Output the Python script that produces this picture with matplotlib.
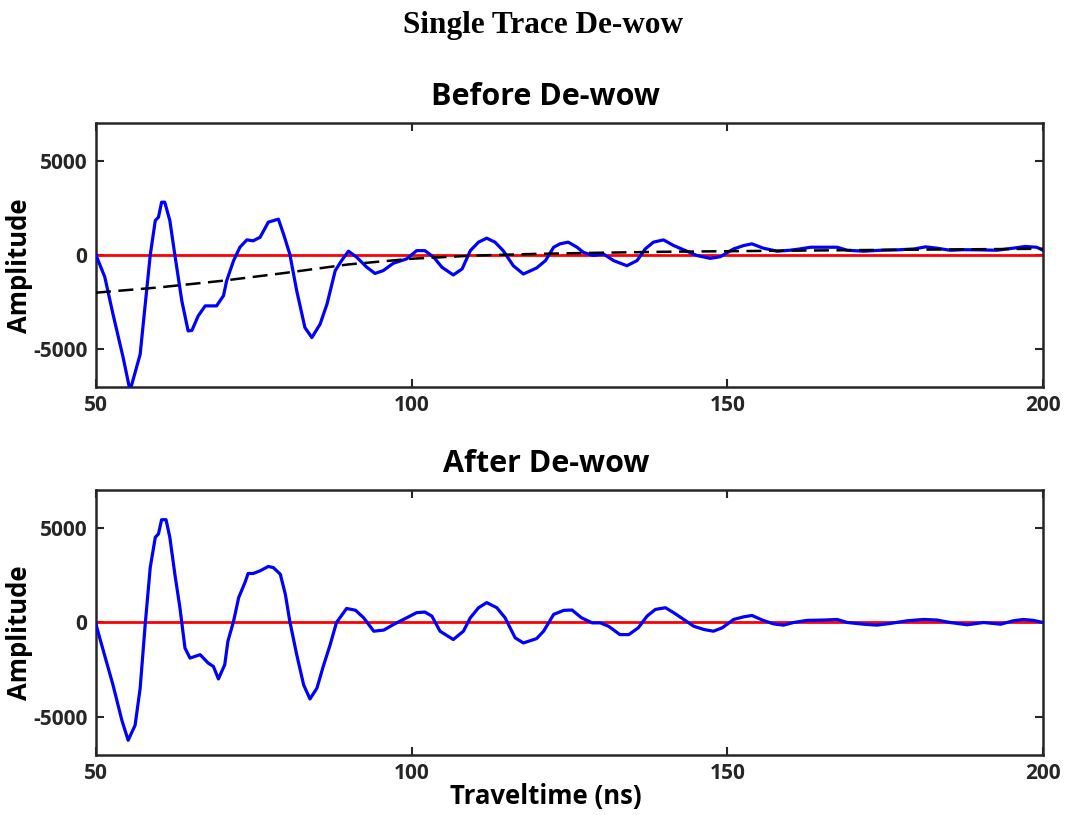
import numpy as np
import matplotlib.pyplot as plt

# Traza antes del de-wow (ns, amplitud)
t_before = [50.0, 51.4, 52.7, 54.3, 55.4, 57.0, 58.6, 59.4, 59.9, 60.4, 60.9, 61.7, 62.5,
            63.6, 64.6, 65.2, 66.2, 67.3, 69.1, 70.2, 70.7, 71.8, 72.8, 73.9, 74.9, 76.0,
            77.3, 78.9, 79.7, 80.7, 81.8, 83.1, 84.2, 85.5, 86.6, 87.9, 88.9, 90.0, 91.3,
            92.9, 94.2, 95.5, 97.1, 99.2, 100.8, 102.1, 103.5, 104.8, 106.6, 108.0, 109.3,
            110.6, 111.9, 113.2, 114.5, 116.1, 117.7, 119.8, 121.2, 122.5, 123.5, 124.8,
            126.2, 127.2, 128.8, 130.4, 132.0, 134.1, 135.7, 137.0, 138.3, 139.9, 141.5,
            143.6, 145.2, 147.3, 148.9, 151.0, 152.6, 153.9, 155.7, 157.9, 159.9, 161.5,
            163.2, 165.3, 167.4, 169.0, 171.6, 174.3, 176.9, 179.6, 181.4, 183.2, 185.3,
            187.4, 190.1, 192.7, 195.3, 197.2, 199.0, 200.0]
a_before = [0, -1170, -3140, -5430, -7200, -5270, 0, 1830, 2000, 2800, 2800, 1830, 0,
            -2430, -4030, -4000, -3230, -2700, -2700, -2160, -1370, -300, 410, 800, 750, 940,
            1740, 1900, 1120, 50, -1900, -3850, -4380, -3670, -2600, -830, -300, 200, -120,
            -650, -980, -830, -440, -210, 230, 230, -120, -650, -1060, -740, 230,
            680, 890, 680, 230, -570, -1010, -690, -300, 410, 590, 680,
            410, 140, -30, 50, -300, -570, -300, 320, 680, 800, 500,
            200, -30, -180, -90, 320, 500, 590, 360, 200, 250, 320,
            410, 410, 410, 250, 200, 250, 270, 320, 430, 360, 250,
            280, 270, 250, 360, 450, 410, 250]

# Tendencia (wow) estimada
t_trend = [50, 60, 70, 80, 90, 100, 110, 120, 130, 140, 150, 175, 200]
a_trend = [-2000, -1720, -1370, -950, -500, -200, -30, 60, 120, 170, 200, 270, 330]

# Traza después del de-wow
t_after = [50.0, 51.2, 52.7, 54.1, 55.1, 56.2, 57.0, 57.8, 58.6, 59.4, 59.9, 60.4, 61.1,
           61.7, 62.5, 63.3, 64.1, 64.9, 66.5, 67.8, 68.6, 69.4, 70.4, 70.9, 71.8, 72.6,
           73.6, 74.1, 74.9, 76.0, 77.3, 78.1, 79.2, 80.0, 80.7, 81.8, 82.9, 83.9, 85.0,
           86.0, 87.1, 88.1, 89.7, 91.1, 92.4, 94.0, 95.6, 97.1, 98.7, 100.8, 102.1, 103.2,
           104.5, 106.6, 108.2, 109.3, 110.6, 111.9, 113.5, 114.8, 116.4, 117.7, 119.8,
           120.9, 122.5, 124.1, 125.4, 126.9, 128.6, 129.9, 131.2, 133.0, 134.4, 135.9,
           137.3, 138.6, 140.2, 141.5, 143.1, 144.7, 146.3, 147.8, 149.2, 151.0, 152.6,
           153.9, 155.7, 157.3, 158.9, 160.5, 162.6, 165.3, 167.4, 169.0, 171.6, 173.7,
           175.8, 178.5, 181.1, 183.2, 185.3, 188.0, 190.6, 193.3, 195.3, 196.9, 198.5,
           200.0]
a_after = [-100, -1530, -3300, -5160, -6220, -5430, -3470, -100, 2910, 4500, 4680, 5430, 5430,
           4500, 2550, 780, -1350, -1880, -1700, -2150, -2320, -2980, -2230, -990, 70, 1310,
           2110, 2590, 2590, 2730, 2960, 2900, 2550, 1490, 70, -1700, -3300, -4040, -3470,
           -2320, -1170, 0, 740, 650, 250, -460, -400, -110, 160, 520, 550, 340,
           -460, -900, -460, 250, 780, 1050, 780, 250, -810, -1080, -850,
           -460, 430, 640, 660, 250, -20, -20, -200, -640, -640, -280,
           340, 690, 780, 520, 160, -200, -370, -460, -280, 160, 300,
           370, 110, -70, -140, 0, 110, 130, 160, 0, -90, -140,
           -50, 90, 160, 130, 0, -120, 0, -90, 90, 160, 110,
           0]

bold_sans = 'Open Sans'
plt.rcParams['axes.unicode_minus'] = False

fig = plt.figure(figsize=(10.65, 8.15), dpi=100)
fig.text(0.510, 0.9595, 'Single Trace De-wow', ha='center', va='baseline',
         family='Liberation Serif', fontweight='bold', fontsize=22.5)

ax1 = fig.add_axes([0.0901, 0.5252, 0.8892, 0.3239])
ax2 = fig.add_axes([0.0901, 0.0736, 0.8892, 0.3252])

ax1.plot(t_before, a_before, color='#0000ff', lw=2.3, zorder=3)
ax1.axhline(0, color='#ff0000', lw=2.0, zorder=2)
ax1.plot(t_trend, a_trend, color='black', lw=1.8, ls=(0, (6, 3)), zorder=4)
ax1.set_title('Before De-wow', family=bold_sans, fontweight='bold', fontsize=22, pad=13, x=0.475)

ax2.plot(t_after, a_after, color='#0000ff', lw=2.3, zorder=3)
ax2.axhline(0, color='#ff0000', lw=2.0, zorder=2)
ax2.set_title('After De-wow', family=bold_sans, fontweight='bold', fontsize=22, pad=13, x=0.475)
ax2.set_xlabel('Traveltime (ns)', family=bold_sans, fontweight='bold', fontsize=18.5, labelpad=0)
ax2.xaxis.set_label_coords(0.475, -0.105)

for ax in (ax1, ax2):
    ax.set_xlim(50, 200)
    ax.set_ylim(-7000, 7000)
    ax.set_xticks([50, 100, 150, 200])
    ax.set_yticks([-5000, 0, 5000])
    ax.set_ylabel('Amplitude', family=bold_sans, fontweight='bold', fontsize=18.5)
    ax.yaxis.set_label_coords(-0.066, 0.46)
    ax.tick_params(direction='in', top=True, right=True, length=6, width=1.5,
                   colors='#262626', labelsize=15, pad=6)
    for lab in ax.get_xticklabels() + ax.get_yticklabels():
        lab.set_fontweight('bold')
        lab.set_family(bold_sans)
    for s in ax.spines.values():
        s.set_linewidth(1.8)
        s.set_color('#262626')

fig.savefig('out.png', dpi=100)
